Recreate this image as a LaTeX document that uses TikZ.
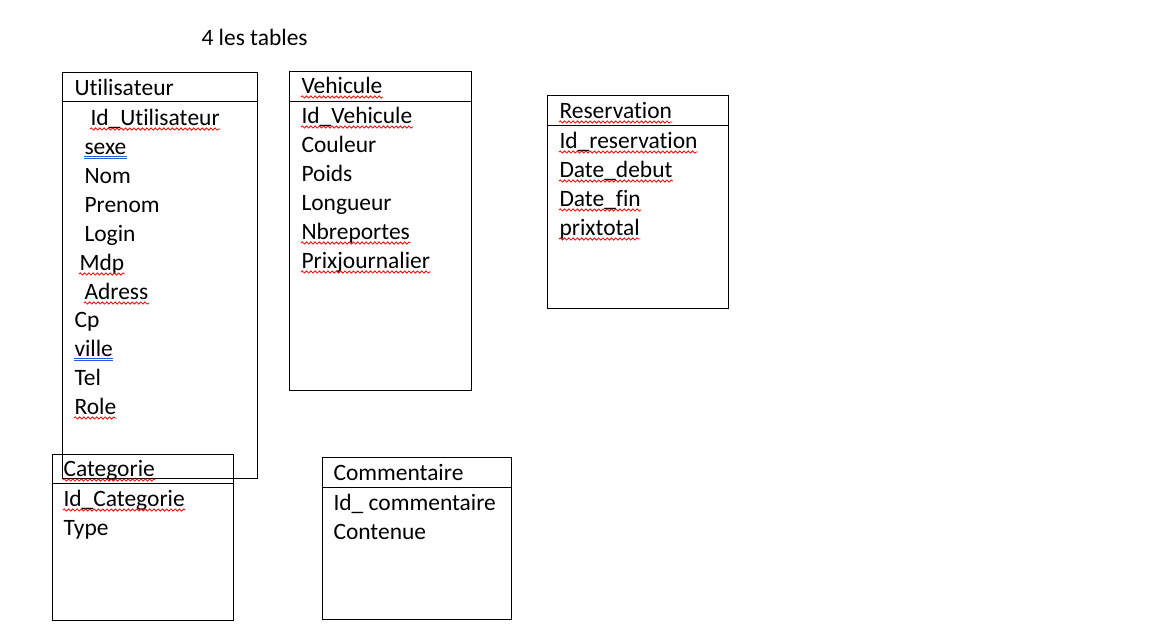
\documentclass[tikz,border=0pt]{standalone}
\usepackage{fontspec}
\setmainfont{Carlito}[RawFeature={-liga;-clig;-dlig;-rlig}]
\usetikzlibrary{decorations.pathmorphing}

\definecolor{wordblue}{RGB}{40,90,220}
\newcommand\sep{\kern0pt{}}
\tikzset{
  field/.style={anchor=base west,inner sep=0pt,font=\fontsize{17.6}{20}\selectfont},
  spell/.style={draw=red,line width=0.6pt,decorate,decoration={snake,amplitude=0.85pt,segment length=3.2pt}},
  grammar/.style={draw=wordblue,line width=0.6pt},
}

\begin{document}
\begin{tikzpicture}[x=0.75pt,y=-0.75pt,line width=0.75pt]
    \useasboundingbox (0,0) rectangle (1156,643);
    \node[field] (titre) at (201,45) {4 les tables};
    % Utilisateur
    \draw (62,72) rectangle (257,478);
    \draw (62,101) -- (257,101);
    \node[field] (util) at (74,95) {Utilisat\sep eur};
    \node[field] (idutil) at (90,125) {Id\_Utilisat\sep eur};
    \node[field] (sexe) at (84,154) {sexe};
    \node[field] (nom) at (84,183) {Nom};
    \node[field] (prenom) at (84,212) {Prenom};
    \node[field] (login) at (84,241) {Login};
    \node[field] (mdp) at (79,270) {Mdp};
    \node[field] (adress) at (84,299) {Adress};
    \node[field] (cp) at (74,327) {Cp};
    \node[field] (ville) at (74,356) {ville};
    \node[field] (tel) at (74,385) {Tel};
    \node[field] (role) at (74,414) {Role};
    % Vehicule
    \draw (289,71) rectangle (471,390);
    \draw (289,101) -- (471,101);
    \node[field] (vehic) at (301,93) {Vehicule};
    \node[field] (idvehic) at (301,123) {Id\_Vehicule};
    \node[field] (couleur) at (301,152) {Couleur};
    \node[field] (poids) at (301,181) {Poids};
    \node[field] (longueur) at (301,210) {Longueur};
    \node[field] (nbportes) at (301,239) {Nbreportes};
    \node[field] (prixj) at (301,268) {Prixjournalier};
    % Reservation
    \draw (547,95) rectangle (728,308);
    \draw (547,125) -- (728,125);
    \node[field] (resa) at (559,118) {Reservat\sep ion};
    \node[field] (idresa) at (559,148) {Id\_reservat\sep ion};
    \node[field] (debut) at (559,177) {Date\_debut};
    \node[field] (fin) at (559,206) {Date\_f\sep in};
    \node[field] (prixt) at (559,235) {prixtotal};
    % Categorie
    \draw (52,454) rectangle (233,620);
    \draw (52,483) -- (233,483);
    \node[field] (categ) at (63,476) {Categorie};
    \node[field] (idcateg) at (63,506) {Id\_Categorie};
    \node[field] (type) at (63,535) {Type};
    % Commentaire
    \draw (322,457) rectangle (511,619);
    \draw (322,487) -- (511,487);
    \node[field] (comm) at (333,480) {Commentaire};
    \node[field] (idcomm) at (333,510) {Id\_ commentaire};
    \node[field] (contenue) at (333,539) {Contenue};
    % soulignements
    \foreach \n in {idutil,mdp,adress,role,vehic,idvehic,nbportes,prixj,resa,idresa,debut,fin,prixt,categ,idcateg}
        \draw[spell] ([yshift=-3pt]\n.base west) -- ([yshift=-3pt]\n.base east);
    \foreach \n in {sexe,ville} {
        \draw[grammar] ([yshift=-1.5pt]\n.base west) -- ([yshift=-1.5pt]\n.base east);
        \draw[grammar] ([yshift=-3.3pt]\n.base west) -- ([yshift=-3.3pt]\n.base east);
    }
\end{tikzpicture}
\end{document}
